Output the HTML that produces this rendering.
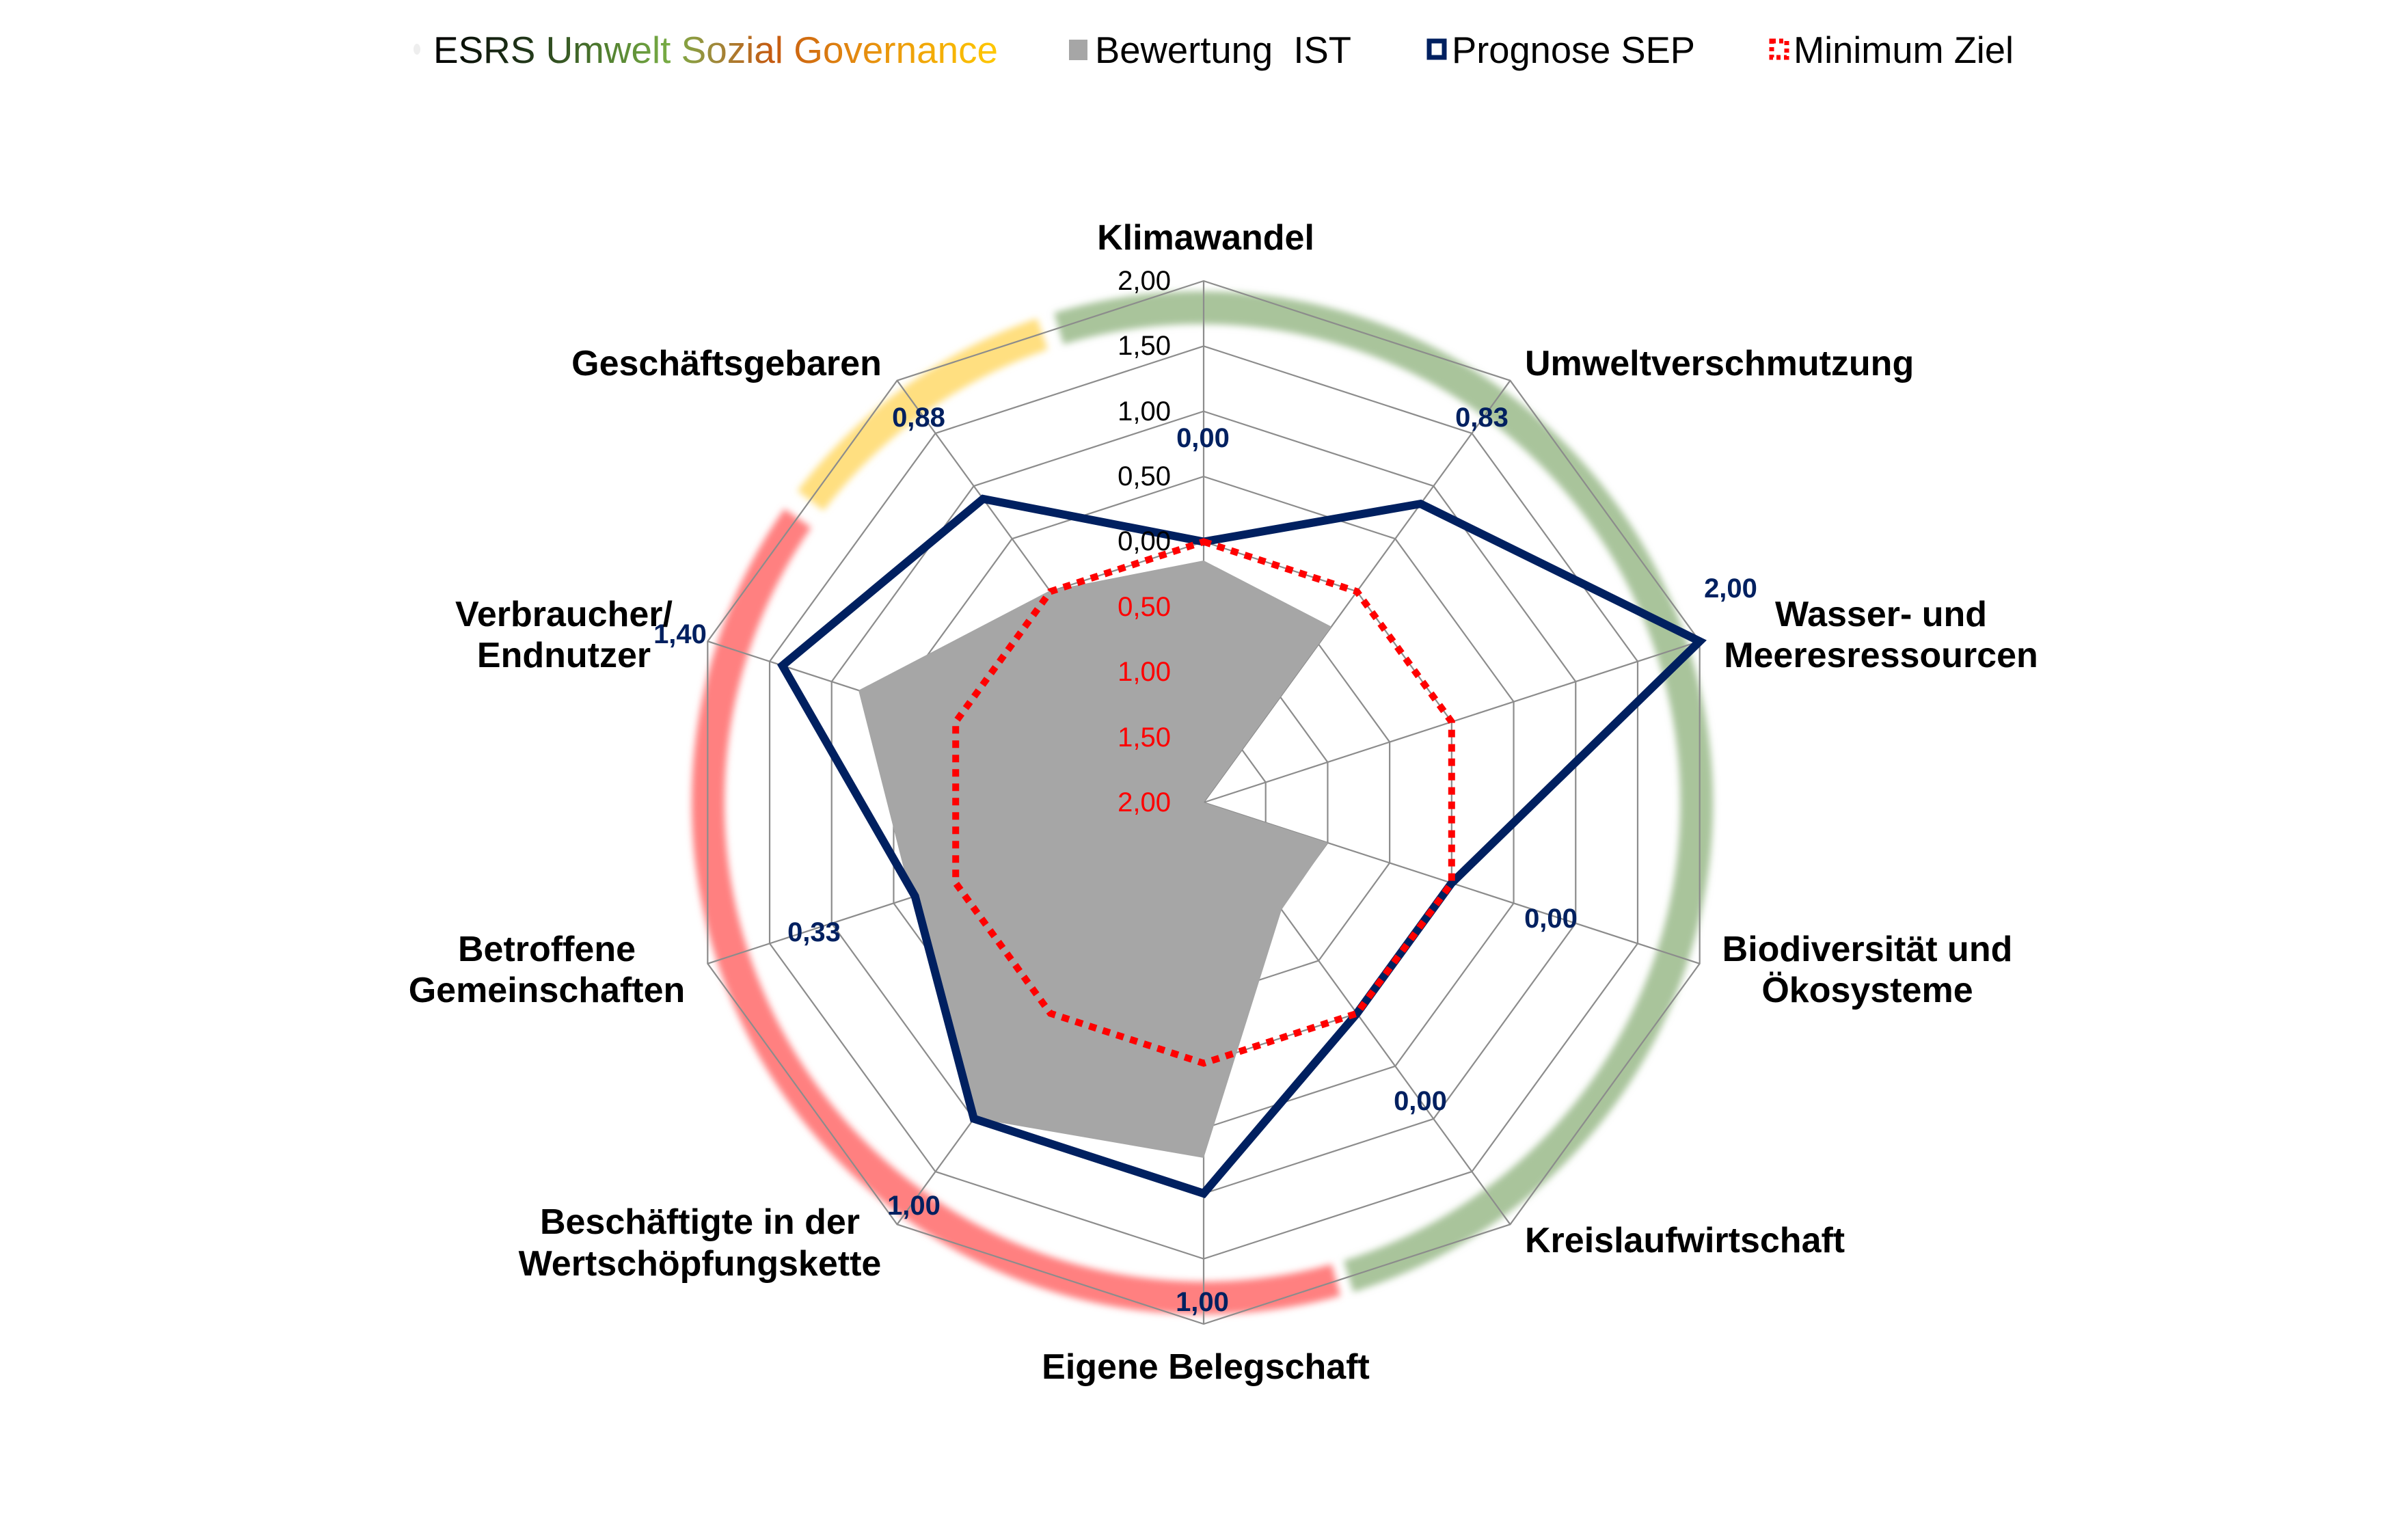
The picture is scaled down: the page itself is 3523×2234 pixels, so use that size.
<!DOCTYPE html>
<html><head><meta charset="utf-8"><style>html,body{margin:0;padding:0;background:#fff;}svg{display:block;}</style></head>
<body>
<svg width="3523" height="2234" viewBox="0 0 3523 2234" xmlns="http://www.w3.org/2000/svg" font-family="'Liberation Sans', Arial, sans-serif">
<defs>
<filter id="bl" x="-10%" y="-10%" width="120%" height="120%"><feGaussianBlur stdDeviation="5"/></filter>
<linearGradient id="lg" gradientUnits="userSpaceOnUse" x1="634" y1="0" x2="1460" y2="0">
<stop offset="0" stop-color="#000"/>
<stop offset="0.17" stop-color="#22381a"/>
<stop offset="0.3" stop-color="#4f7d2f"/>
<stop offset="0.42" stop-color="#79ad45"/>
<stop offset="0.5" stop-color="#a0883a"/>
<stop offset="0.6" stop-color="#c55a11"/>
<stop offset="0.75" stop-color="#e48a10"/>
<stop offset="1" stop-color="#ffc800"/>
</linearGradient>
</defs>

<!-- legend -->
<ellipse cx="610" cy="72" rx="5" ry="8" fill="#eee"/>
<text x="634" y="92" font-size="55" fill="url(#lg)" textLength="826" lengthAdjust="spacingAndGlyphs">ESRS Umwelt Sozial Governance</text>
<rect x="1564" y="58" width="27" height="30" fill="#a6a6a6"/>
<text x="1602" y="92" font-size="55" fill="#000" textLength="375" lengthAdjust="spacingAndGlyphs" xml:space="preserve">Bewertung  IST</text>
<rect x="2091" y="60" width="22" height="24" fill="#fff" stroke="#002060" stroke-width="7"/>
<text x="2124" y="92" font-size="55" fill="#000" textLength="356" lengthAdjust="spacingAndGlyphs">Prognose SEP</text>
<rect x="2592" y="60" width="22" height="24" fill="#fff" stroke="#ff0000" stroke-width="7" stroke-dasharray="6,5"/>
<text x="2624" y="92" font-size="55" fill="#000" textLength="322" lengthAdjust="spacingAndGlyphs">Minimum Ziel</text>

<!-- colored bands -->
<g filter="url(#bl)" fill="none" stroke-width="48">
<path d="M1549,480.7 A725,725 0 0 1 1973,1867.3" stroke="#a9c49b"/>
<path d="M1954.7,1872.6 A725,725 0 0 1 1167.1,758.1" stroke="#ff8080"/>
<path d="M1185.8,732.6 A725,725 0 0 1 1525,488.5" stroke="#ffdf80"/>
</g>

<!-- grid -->
<g fill="none" stroke="#8c8c8c">
<polygon transform="translate(1761,1174) scale(0.95375)" stroke-width="2.31" points="0,-100 58.78,-80.90 95.11,-30.90 95.11,30.90 58.78,80.90 0,100 -58.78,80.90 -95.11,30.90 -95.11,-30.90 -58.78,-80.90"/>
<polygon transform="translate(1761,1174) scale(1.9075)" stroke-width="1.153" points="0,-100 58.78,-80.90 95.11,-30.90 95.11,30.90 58.78,80.90 0,100 -58.78,80.90 -95.11,30.90 -95.11,-30.90 -58.78,-80.90"/>
<polygon transform="translate(1761,1174) scale(2.86125)" stroke-width="0.769" points="0,-100 58.78,-80.90 95.11,-30.90 95.11,30.90 58.78,80.90 0,100 -58.78,80.90 -95.11,30.90 -95.11,-30.90 -58.78,-80.90"/>
<polygon transform="translate(1761,1174) scale(3.815)" stroke-width="0.577" points="0,-100 58.78,-80.90 95.11,-30.90 95.11,30.90 58.78,80.90 0,100 -58.78,80.90 -95.11,30.90 -95.11,-30.90 -58.78,-80.90"/>
<polygon transform="translate(1761,1174) scale(4.76875)" stroke-width="0.461" points="0,-100 58.78,-80.90 95.11,-30.90 95.11,30.90 58.78,80.90 0,100 -58.78,80.90 -95.11,30.90 -95.11,-30.90 -58.78,-80.90"/>
<polygon transform="translate(1761,1174) scale(5.7225)" stroke-width="0.384" points="0,-100 58.78,-80.90 95.11,-30.90 95.11,30.90 58.78,80.90 0,100 -58.78,80.90 -95.11,30.90 -95.11,-30.90 -58.78,-80.90"/>
<polygon transform="translate(1761,1174) scale(6.67625)" stroke-width="0.330" points="0,-100 58.78,-80.90 95.11,-30.90 95.11,30.90 58.78,80.90 0,100 -58.78,80.90 -95.11,30.90 -95.11,-30.90 -58.78,-80.90"/>
<polygon transform="translate(1761,1174) scale(7.63)" stroke-width="0.288" points="0,-100 58.78,-80.90 95.11,-30.90 95.11,30.90 58.78,80.90 0,100 -58.78,80.90 -95.11,30.90 -95.11,-30.90 -58.78,-80.90"/>
<g transform="translate(1761,1174)" stroke-width="2.2">
<line x1="0" y1="0" x2="0" y2="-763"/>
<line x1="0" y1="0" x2="448.5" y2="-617.3"/>
<line x1="0" y1="0" x2="725.7" y2="-235.8"/>
<line x1="0" y1="0" x2="725.7" y2="235.8"/>
<line x1="0" y1="0" x2="448.5" y2="617.3"/>
<line x1="0" y1="0" x2="0" y2="763"/>
<line x1="0" y1="0" x2="-448.5" y2="617.3"/>
<line x1="0" y1="0" x2="-725.7" y2="235.8"/>
<line x1="0" y1="0" x2="-725.7" y2="-235.8"/>
<line x1="0" y1="0" x2="-448.5" y2="-617.3"/>
</g>
</g>

<!-- gray fill -->
<polygon points="1761,820 1947.9,916.7 1761,1174 1942.7,1233 1875,1331 1761,1694 1425.4,1635.9 1333,1313 1256,1010 1536,864" fill="#a6a6a6"/>

<!-- blue -->
<polygon points="1761,792.5 2078.4,737.1 2486.7,938.2 2123.8,1291.9 1985.2,1482.6 1761,1746 1424.8,1636.7 1338.7,1311.2 1144.7,973.8 1438.3,729.9" fill="none" stroke="#002060" stroke-width="12" stroke-linejoin="miter"/>
<!-- red dotted -->
<polygon points="1761,792.5 1985.2,865.4 2123.8,1056.1 2123.8,1291.9 1985.2,1482.6 1761,1555.5 1536.8,1482.6 1398.2,1291.9 1398.2,1056.1 1536.8,865.4" fill="none" stroke="#ff0000" stroke-width="10" stroke-dasharray="11,10"/>

<!-- tick labels -->
<g font-size="40" text-anchor="end" dominant-baseline="central">
<text x="1713" y="411" fill="#000">2,00</text>
<text x="1713" y="506" fill="#000">1,50</text>
<text x="1713" y="602" fill="#000">1,00</text>
<text x="1713" y="697" fill="#000">0,50</text>
<text x="1713" y="792" fill="#000">0,00</text>
<text x="1713" y="888" fill="#ff0000">0,50</text>
<text x="1713" y="983" fill="#ff0000">1,00</text>
<text x="1713" y="1079" fill="#ff0000">1,50</text>
<text x="1713" y="1174" fill="#ff0000">2,00</text>
</g>

<!-- data labels -->
<g font-size="40" font-weight="bold" fill="#002060" text-anchor="middle" dominant-baseline="central">
<text x="1760" y="641">0,00</text>
<text x="2168" y="611">0,83</text>
<text x="2532" y="861">2,00</text>
<text x="2269" y="1344">0,00</text>
<text x="2078" y="1611">0,00</text>
<text x="1759" y="1905">1,00</text>
<text x="1337" y="1764">1,00</text>
<text x="1191" y="1364">0,33</text>
<text x="995" y="928">1,40</text>
<text x="1344" y="611">0,88</text>
</g>

<!-- category labels -->
<g font-size="52" font-weight="bold" fill="#000" text-anchor="middle" dominant-baseline="central">
<text x="1764" y="348">Klimawandel</text>
<text x="2231" y="532" text-anchor="start">Umweltverschmutzung</text>
<text x="2752" y="899">Wasser- und</text>
<text x="2752" y="959">Meeresressourcen</text>
<text x="2732" y="1389">Biodiversität und</text>
<text x="2732" y="1449">Ökosysteme</text>
<text x="2231" y="1815" text-anchor="start">Kreislaufwirtschaft</text>
<text x="1764" y="2000">Eigene Belegschaft</text>
<text x="1024" y="1788">Beschäftigte in der</text>
<text x="1024" y="1849">Wertschöpfungskette</text>
<text x="800" y="1389">Betroffene</text>
<text x="800" y="1449">Gemeinschaften</text>
<text x="825" y="899">Verbraucher/</text>
<text x="825" y="959">Endnutzer</text>
<text x="1063" y="532">Geschäftsgebaren</text>
</g>
</svg>
</body></html>
